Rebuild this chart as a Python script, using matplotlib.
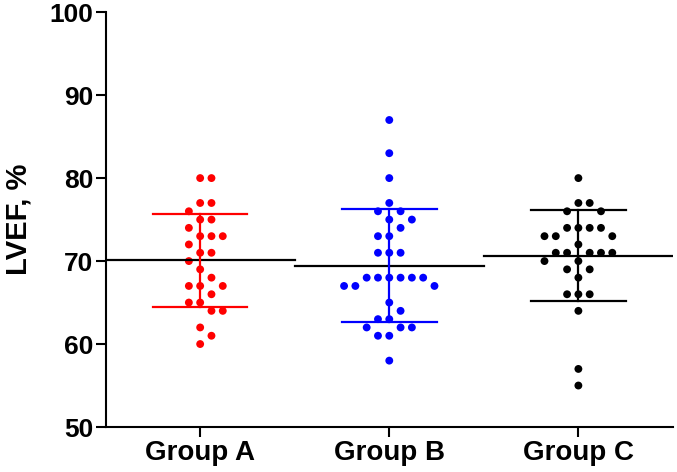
import numpy as np
import matplotlib

matplotlib.use("Agg")
import matplotlib.pyplot as plt

plt.rcParams["font.family"] = ["Liberation Sans", "DejaVu Sans"]
plt.rcParams["font.weight"] = "bold"

# LVEF (%) per patient
groups = ["Group A", "Group B", "Group C"]
colors = ["#ff0000", "#0000ff", "#000000"]
group_a = [80, 80, 77, 77, 76, 75, 75, 74, 73, 73, 73, 72, 71, 71, 70, 69,
           68, 67, 67, 67, 66, 65, 65, 64, 64, 62, 61, 60]
group_b = [87, 83, 80, 77, 76, 76, 75, 75, 74, 73, 73, 71, 71, 71,
           68, 68, 68, 68, 68, 68, 67, 67, 67, 65, 64, 63, 63, 62, 62, 62,
           61, 61, 58]
group_c = [80, 77, 77, 76, 76, 74, 74, 74, 74, 73, 73, 73, 72,
           71, 71, 71, 71, 71, 70, 70, 69, 69, 68, 66, 66, 66, 64, 57, 55]
data = [group_a, group_b, group_c]

fig = plt.figure(figsize=(6.77, 4.72), dpi=100)
ax = fig.add_axes([0.156, 0.0953, 0.838, 0.879])
ax.set_xlim(-0.5, 2.5)
ax.set_ylim(50, 100)


def swarm(values, center, step_px=11.3, min_px=11.0):
    """Greedy beeswarm on half-step slots, closest free slot to the centre."""
    to_px = ax.transData.transform
    px_per_x = to_px((1, 0))[0] - to_px((0, 0))[0]
    px_per_y = to_px((0, 1))[1] - to_px((0, 0))[1]
    half = step_px / 2 / px_per_x
    slots = [0]
    for k in range(1, 20):
        slots += [k, -k]
    placed = []
    for v in sorted(values, reverse=True):
        for k in slots:
            p = k * half
            if all(np.hypot((p - q) * px_per_x, (v - w) * px_per_y) >= min_px
                   for q, w in placed):
                break
        placed.append((p, v))
    xs = [center + p for p, _ in placed]
    ys = [v for _, v in placed]
    return xs, ys


for i, (vals, col) in enumerate(zip(data, colors)):
    xs, ys = swarm(vals, i)
    ax.scatter(xs, ys, s=32, color=col, edgecolors="none", zorder=3)
    m = np.mean(vals)
    sd = np.std(vals, ddof=1)
    ax.plot([i - 0.5, i + 0.5], [m, m], color="black", lw=1.6, zorder=4)
    ax.plot([i, i], [m - sd, m + sd], color=col, lw=1.6, zorder=4)
    for y in (m - sd, m + sd):
        ax.plot([i - 0.25, i + 0.25], [y, y], color=col, lw=1.6, zorder=4)

ax.set_xticks(range(3))
ax.set_xticklabels(groups, fontsize=20, fontweight="bold")
ax.set_yticks(range(50, 101, 10))
ax.tick_params(axis="y", labelsize=19, width=1.5, length=7, pad=2)
ax.tick_params(axis="x", width=1.5, length=7, pad=2)
for lab in ax.get_yticklabels():
    lab.set_fontweight("bold")
ax.set_ylabel("LVEF, %", fontsize=21, fontweight="bold", labelpad=12)
for side in ("top", "right"):
    ax.spines[side].set_visible(False)
for side in ("left", "bottom"):
    ax.spines[side].set_linewidth(1.5)

fig.savefig("out.png", dpi=100)
